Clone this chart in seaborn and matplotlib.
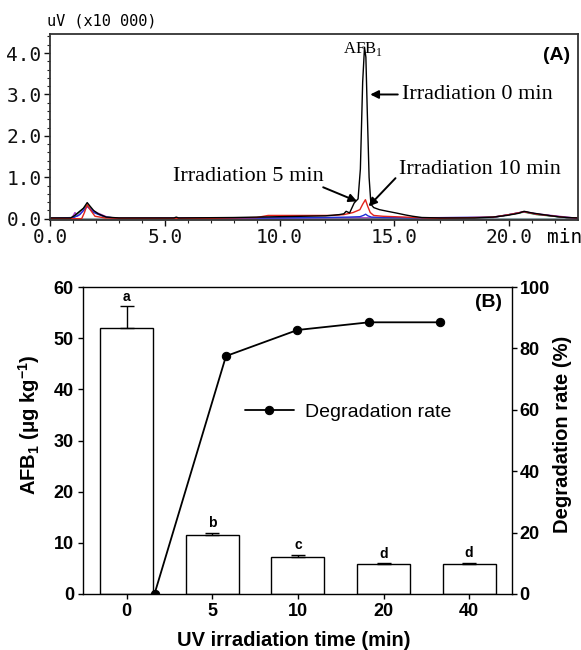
import matplotlib
matplotlib.use("Agg")
import matplotlib.pyplot as plt
import numpy as np
import pandas as pd
import seaborn as sns

# panel A: chromatogram traces, time (min) vs signal (uV x10 000), vertices
t_black = [0.0, 0.9, 1.05, 1.25, 1.45, 1.62, 1.75, 1.9, 2.1, 2.45, 3.0, 5.4, 5.5, 5.6, 8.0, 9.0,
           10.0, 11.0, 12.0, 12.6, 12.8, 12.9, 13.05, 13.25, 13.42, 13.52, 13.62, 13.7, 13.76,
           13.82, 13.9, 13.98, 14.1, 14.35, 14.7, 15.07, 15.5, 15.8, 16.2, 17.0, 18.5, 19.3,
           19.9, 20.4, 20.65, 21.0, 21.6, 22.1, 22.5, 23.0]
s_black = [0.02, 0.02, 0.07, 0.16, 0.25, 0.39, 0.3, 0.2, 0.12, 0.04, 0.02, 0.02, 0.04, 0.02, 0.03, 0.04,
           0.05, 0.06, 0.07, 0.1, 0.12, 0.18, 0.14, 0.38, 0.48, 1.2, 3.3, 4.14, 3.9,
           2.6, 1.0, 0.35, 0.27, 0.22, 0.18, 0.14, 0.09, 0.06, 0.03, 0.02, 0.02, 0.04,
           0.08, 0.13, 0.18, 0.14, 0.09, 0.05, 0.03, 0.02]

t_red = [0.0, 1.3, 1.38, 1.5, 1.62, 1.75, 1.96, 2.4, 3.0, 7.0, 9.0, 9.5, 10.5, 11.5, 12.3, 12.8,
         13.2, 13.5, 13.62, 13.74, 13.84, 13.95, 14.1, 14.5, 15.5, 16.3, 17.0, 19.3, 20.0, 20.65,
         21.2, 22.5, 23.0]
s_red = [0.01, 0.0, 0.0, 0.15, 0.34, 0.22, 0.06, 0.02, 0.01, 0.01, 0.03, 0.08, 0.08, 0.08, 0.08, 0.1,
         0.15, 0.22, 0.35, 0.46, 0.3, 0.15, 0.08, 0.06, 0.04, 0.02, 0.01, 0.04, 0.1, 0.17,
         0.11, 0.03, 0.02]

t_blue = [0.0, 1.0, 1.3, 1.62, 1.9, 2.4, 3.0, 10.0, 12.0, 13.0, 13.5, 13.65, 13.75, 13.85, 14.0,
          14.5, 16.0, 19.3, 20.0, 20.65, 21.2, 22.5, 23.0]
s_blue = [0.01, 0.02, 0.1, 0.3, 0.15, 0.04, 0.01, 0.02, 0.03, 0.04, 0.05, 0.08, 0.11, 0.07, 0.04,
          0.03, 0.02, 0.04, 0.1, 0.17, 0.11, 0.03, 0.02]

t_green = [0.0, 1.0, 1.25, 1.62, 1.9, 2.4, 3.0, 12.0, 16.0, 19.3, 20.0, 20.65, 21.2, 22.5, 23.0]
s_green = [0.01, 0.03, 0.15, 0.33, 0.18, 0.04, 0.01, 0.02, 0.01, 0.03, 0.1, 0.16, 0.1, 0.03, 0.01]

t_purple = [0.0, 0.95, 1.09, 1.2, 1.45, 1.62, 1.9, 2.5, 3.0, 19.3, 20.0, 20.65, 21.2, 22.5, 23.0]
s_purple = [0.01, 0.02, 0.15, 0.06, 0.2, 0.3, 0.18, 0.04, 0.01, 0.03, 0.1, 0.17, 0.12, 0.04, 0.01]

t_base = [0.0, 23.0]
s_base = [0.0, 0.0]

# panel B
uv_time = ["0", "5", "10", "20", "40"]
afb1_mean = [52.0, 11.6, 7.2, 5.9, 5.9]
afb1_err = [4.2, 0.4, 0.5, 0.1, 0.2]
afb1_group = ["a", "b", "c", "d", "d"]
degradation = [0.0, 77.5, 86.0, 88.5, 88.5]

sns.set_theme(style="ticks", rc={"text.color": "black", "axes.labelcolor": "black",
                                 "xtick.color": "black", "ytick.color": "black",
                                 "axes.edgecolor": "black"})
plt.rcParams['font.family'] = ['Liberation Sans', 'DejaVu Sans']
plt.rcParams['mathtext.fontset'] = 'custom'
plt.rcParams['mathtext.rm'] = 'Liberation Serif'
plt.rcParams['mathtext.bf'] = 'Liberation Sans:bold'

W, H = 581, 650
fig = plt.figure(figsize=(W / 100, H / 100), dpi=100)

# ---------------- (A) chromatogram ----------------
axA = fig.add_axes([50 / W, 1 - 220 / H, 528 / W, 186 / H])

traces = {"0 min": (t_black, s_black), "5 min": (t_red, s_red), "10 min": (t_blue, s_blue),
          "green": (t_green, s_green), "purple": (t_purple, s_purple)}
chrom = pd.concat([pd.DataFrame({"time": t, "signal": s, "trace": k}) for k, (t, s) in traces.items()])
palette = {"0 min": "black", "5 min": "#e2231a", "10 min": "#1f2fd6",
           "green": "#1a9a2a", "purple": "#b042cf"}

sns.lineplot(x=t_base, y=s_base, color="#8fa3a8", linewidth=2.2, ax=axA)
sns.lineplot(data=chrom, x="time", y="signal", hue="trace",
             hue_order=["green", "purple", "10 min", "5 min", "0 min"],
             palette=palette, estimator=None, legend=False, linewidth=1.0, ax=axA)

axA.set_xlim(0, 23)
axA.set_ylim(-0.03, 4.46)
axA.set_xticks([0, 5, 10, 15, 20])
axA.set_xticks(np.arange(0, 23, 1), minor=True)
axA.set_xticklabels([f"{v:.1f}" for v in [0, 5, 10, 15, 20]], fontfamily="DejaVu Sans Mono", fontsize=14)
axA.set_yticks([0, 1, 2, 3, 4])
axA.set_yticks(np.arange(0, 4.41, 0.2), minor=True)
axA.set_yticklabels([f"{v:.1f}" for v in [0, 1, 2, 3, 4]], fontfamily="DejaVu Sans Mono", fontsize=14)
axA.tick_params(which="major", direction="out", length=4, width=1, pad=2, colors="#111111")
axA.tick_params(which="minor", direction="out", length=2, width=0.8, colors="#222222")
axA.set_xlabel("")
axA.set_ylabel("")
for sp in axA.spines.values():
    sp.set_visible(True)
    sp.set_linewidth(1.3)
    sp.set_color("#333333")

axA.text(-0.006, 1.07, "uV (x10 000)", transform=axA.transAxes, ha="left", va="center",
         fontsize=11, fontfamily="DejaVu Sans Mono")
axA.text(22.4, -0.043, "min", transform=axA.get_xaxis_transform(), ha="center", va="top",
         fontsize=14, fontfamily="DejaVu Sans Mono")
axA.text(0.985, 0.887, "(A)", transform=axA.transAxes, ha="right", va="center",
         fontsize=14, fontweight="bold")
axA.text(13.65, 4.1, r"AFB$_\mathrm{1}$", ha="center", va="center", fontsize=12,
         fontfamily="Liberation Serif")

arrow = dict(arrowstyle="-|>", color="black", lw=1.4, mutation_scale=12, shrinkA=0, shrinkB=0)
axA.annotate("", xy=(13.95, 3.0), xytext=(15.15, 3.0), arrowprops=arrow)
axA.text(15.35, 3.01, "Irradiation 0 min", ha="left", va="center", fontsize=16,
         fontfamily="Liberation Serif")
axA.annotate("", xy=(13.38, 0.42), xytext=(11.9, 0.76), arrowprops=arrow)
axA.text(5.35, 1.01, "Irradiation 5 min", ha="left", va="center", fontsize=16,
         fontfamily="Liberation Serif")
axA.annotate("", xy=(13.88, 0.3), xytext=(15.05, 0.98), arrowprops=arrow)
axA.text(15.22, 1.18, "Irradiation 10 min", ha="left", va="center", fontsize=16,
         fontfamily="Liberation Serif")

# ---------------- (B) bars + degradation rate ----------------
rectB = [83 / W, 1 - 594 / H, 429 / W, 307 / H]
axB = fig.add_axes(rectB)
sns.barplot(x=uv_time, y=afb1_mean, order=uv_time, width=0.62, color="white", saturation=1,
            edgecolor="black", linewidth=1, errorbar=None, ax=axB)
xpos = np.arange(len(uv_time))
axB.errorbar(xpos, afb1_mean, yerr=[np.zeros(len(afb1_err)), afb1_err], fmt="none",
             ecolor="black", elinewidth=1, capsize=5, capthick=1)
for x, m, e, g in zip(xpos, afb1_mean, afb1_err, afb1_group):
    axB.annotate(g, (x, m + e), xytext=(0, 2), textcoords="offset points", ha="center",
                 va="bottom", fontsize=10, fontweight="bold")

axB.set_xlim(-0.51, 4.5)
axB.set_ylim(0, 60)
axB.set_yticks(np.arange(0, 61, 10))
axB.tick_params(direction="out", length=3.5, width=1, pad=3, labelsize=13, colors="black")
for lab in axB.get_xticklabels() + axB.get_yticklabels():
    lab.set_fontweight("bold")
for sp in axB.spines.values():
    sp.set_visible(True)
    sp.set_linewidth(1)
    sp.set_color("black")
axB.set_xlabel("UV irradiation time (min)", fontsize=14.5, fontweight="bold")
axB.set_ylabel(r"AFB$_\mathbf{1}$ (μg kg$^{\mathbf{-1}}$)", fontsize=14.5, fontweight="bold")
axB.xaxis.set_label_coords(0.492, -0.12)
axB.yaxis.set_label_coords(-0.096, 0.55)

axR = fig.add_axes(rectB, facecolor="none")
deg_pos = np.arange(1, len(degradation) + 1)
sns.lineplot(x=deg_pos, y=degradation, color="black", linewidth=1.3, marker="o", markersize=6,
             markeredgecolor="black", label="Degradation rate", ax=axR)
axR.set_xlim(0, len(degradation) + 1)
axR.set_ylim(0, 100)
axR.xaxis.set_visible(False)
axR.yaxis.tick_right()
axR.yaxis.set_label_position("right")
axR.set_yticks(np.arange(0, 101, 20))
axR.tick_params(axis="y", direction="out", length=3.5, width=1, pad=2, labelsize=13, colors="black")
for lab in axR.get_yticklabels():
    lab.set_fontweight("bold")
for sp in axR.spines.values():
    sp.set_visible(False)
axR.set_ylabel("Degradation rate (%)", fontsize=14.5, fontweight="bold")
axR.yaxis.set_label_coords(1.0956, 0.52)
leg = axR.legend(loc="center left", bbox_to_anchor=(0.3776, 0.593), frameon=False, fontsize=14,
                 handlelength=2.5, handletextpad=0.6, borderpad=0, borderaxespad=0)
for txt in leg.get_texts():
    txt.set_color("black")
axR.text(0.977, 0.948, "(B)", transform=axR.transAxes, ha="right", va="center",
         fontsize=14, fontweight="bold")

fig.savefig("out.png", dpi=100)
